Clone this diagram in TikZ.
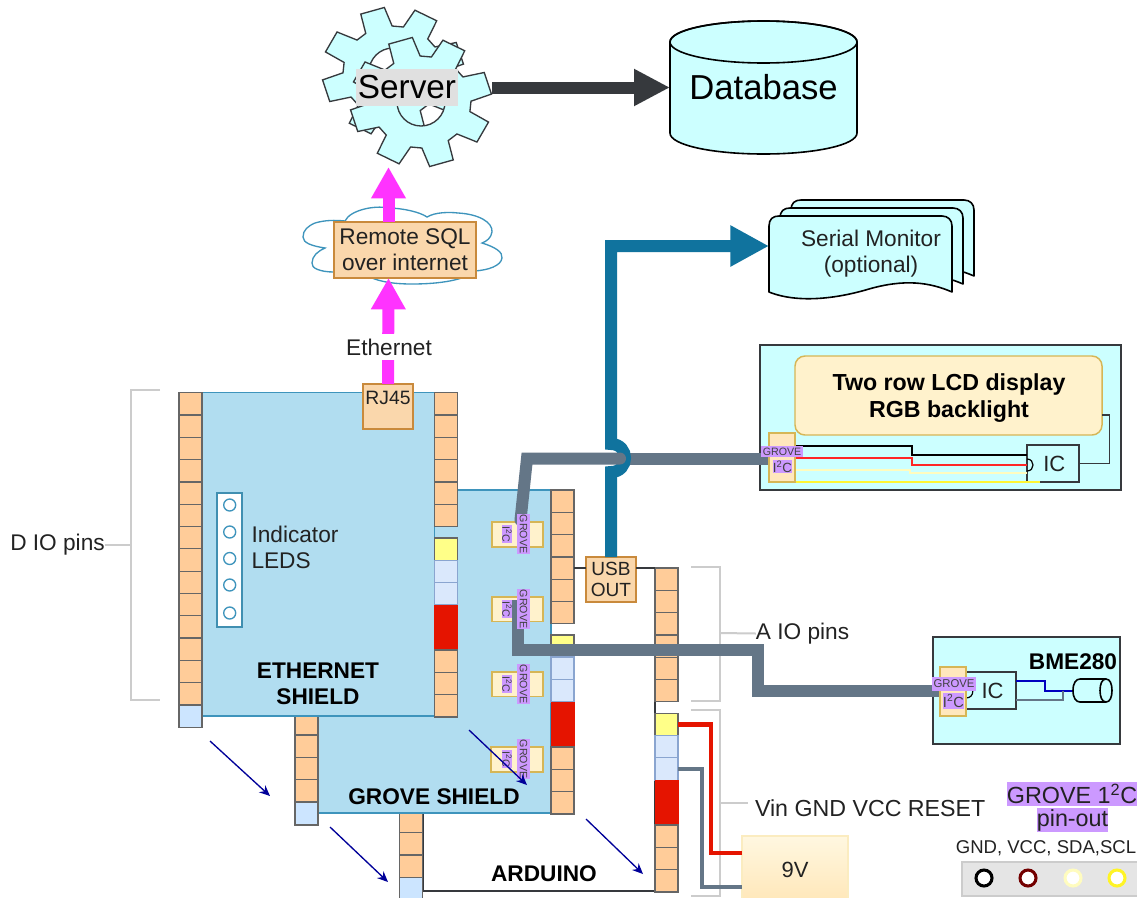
\documentclass[tikz,border=0pt]{standalone}
\usepackage{fontspec}
\setmainfont{Liberation Sans}
\usetikzlibrary{arrows.meta}
\pgfdeclarelayer{front}
\pgfsetlayers{main,front}
\definecolor{cyanfill}{HTML}{CCFFFF}
\definecolor{pinorange}{HTML}{FFCC99}
\definecolor{pinedge}{HTML}{666666}
\definecolor{pinblue}{HTML}{CCE5FF}
\definecolor{ltblue}{HTML}{DAE8FC}
\definecolor{ltblueedge}{HTML}{8AA5D0}
\definecolor{pinyellow}{HTML}{FFFF88}
\definecolor{pinred}{HTML}{E51400}
\definecolor{board}{HTML}{B1DDF0}
\definecolor{boardedge}{HTML}{3E94BC}
\definecolor{usbblue}{HTML}{10739E}
\definecolor{steel}{HTML}{647687}
\definecolor{darkarrow}{HTML}{36393D}
\definecolor{magentaarrow}{HTML}{FF33FF}
\definecolor{tan}{HTML}{FAD7AC}
\definecolor{tanedge}{HTML}{C98A3C}
\definecolor{cream}{HTML}{FFF2CC}
\definecolor{creamedge}{HTML}{D6B656}
\definecolor{purple}{HTML}{CC99FF}
\definecolor{navy}{HTML}{000099}
\definecolor{bracket}{HTML}{CCCCCC}
\definecolor{labeltext}{HTML}{222222}
\tikzset{
  base/.style={inner sep=0pt, outer sep=0pt, font=\fontsize{17}{19.5}\selectfont, align=center, text=labeltext},
  pinbox/.style={base, draw=pinedge, line width=0.9pt, fill=pinorange},
  pinbl/.style={pinbox, fill=pinblue},
  pinlt/.style={base, draw=ltblueedge, line width=0.9pt, fill=ltblue},
  pinye/.style={pinbox, fill=pinyellow},
  pinre/.style={base, draw=pinred, fill=pinred},
  boardbox/.style={base, draw=boardedge, line width=0.9pt, fill=board},
  tanbox/.style={base, draw=tanedge, line width=1.1pt, fill=tan},
  creambox/.style={base, draw=creamedge, line width=1.1pt, fill=cream},
  purplelabel/.style={base, fill=purple, font=\fontsize{8}{9}\selectfont, text=black!75},
  modulebox/.style={base, draw=darkarrow, line width=1.1pt, fill=cyanfill},
  heavy/.style={line width=9pt, line join=miter},
  thinblue/.style={navy, line width=1pt, -{Stealth[length=8pt,width=7pt]}},
  bracketline/.style={bracket, line width=1.5pt},
  sheet/.style={fill=cyanfill, draw=black, line width=1.2pt, line join=round},
  gearstyle/.style={fill=cyanfill, draw=darkarrow, line width=1pt, even odd rule},
  wire/.style={line width=1.5pt},
}
\newcommand{\bx}[7]{\node[#6, minimum width={(#4-(#2))*0.75pt}, minimum height={(#5-(#3))*0.75pt}] (#1) at ({(#2+#4)/2},{(#3+#5)/2}) {#7};}
\newcommand{\strip}[6]{% prefix, x0, y0, from, to, style
  \foreach \i in {#4,...,#5} {%
    \pgfmathsetmacro{\ya}{#3+(\i-#4)*22.3}%
    \pgfmathsetmacro{\yb}{\ya+22.3}%
    \pgfmathsetmacro{\xb}{#2+23}%
    \bx{#1\i}{#2}{\ya}{\xb}{\yb}{#6}{}%
  }}
\newcommand{\geargear}[2]{%
  \begin{scope}[shift={(#1,#2)}]
  \path[gearstyle] ({50*cos(12)},{46*sin(12)})
    \foreach \t in {28,73,118,163,208,253,298,343} {
      -- ({50*cos(\t-16)},{46*sin(\t-16)}) -- ({71*cos(\t-10)},{65*sin(\t-10)})
      -- ({71*cos(\t+10)},{65*sin(\t+10)}) -- ({50*cos(\t+16)},{46*sin(\t+16)})
    } -- cycle (0,0) circle [radius=24];
  \end{scope}}
\newcommand{\docsheet}[2]{%
  \begin{scope}[shift={(#1,#2)}]
  \path[sheet] (0,10) .. controls (0,3) and (4,0) .. (10,0) -- (173,0)
    .. controls (179,0) and (183,4) .. (183,10) -- (183,76)
    .. controls (160,66) and (135,63) .. (100,73)
    .. controls (70,82) and (30,88) .. (0,76) -- cycle;
  \end{scope}}
\begin{document}
\begin{tikzpicture}[x=0.75pt,y=-0.75pt]
\useasboundingbox (0,0) rectangle (1137,897);
\fill[white] (0,0) rectangle (1137,897);

% named free ends
\coordinate (gearbottom) at (388.5,167);
\coordinate (gearright) at (492,87.5);
\coordinate (sm) at (769,246);
\coordinate (a1s) at (210,741); \coordinate (a1e) at (270,796);
\coordinate (a2s) at (330,827); \coordinate (a2e) at (388,882);
\coordinate (a3s) at (469,730); \coordinate (a3e) at (527,785);
\coordinate (a4s) at (586,819); \coordinate (a4e) at (643,874);

% brackets
\draw[bracketline] (160,390) -- (131,390) -- (131,700) -- (160,700);
\draw[bracketline] (691,567) -- (720,567) -- (720,700.5) -- (691,700.5);
\draw[bracketline] (691,710) -- (720,710) -- (720,896) -- (691,896);

% gears
\geargear{393}{72}
\geargear{421}{102}
\bx{server}{356}{69}{458}{106}{base, fill=black!12, font=\fontsize{25}{28}\selectfont, text=black}{Server}

% database
\path[fill=cyanfill, draw=black, line width=1.2pt] (670,42) -- (670,133)
  .. controls (670,145) and (712,154) .. (763.5,154)
  .. controls (815,154) and (857,145) .. (857,133) -- (857,42)
  .. controls (857,30) and (815,21) .. (763.5,21)
  .. controls (712,21) and (670,30) .. (670,42) -- cycle;
\draw[black, line width=1.2pt] (763.5,42) ellipse [x radius=93.5, y radius=21];
\bx{db}{670}{21}{857}{154}{base, font=\fontsize{26}{28}\selectfont, text=black}{Database}
\draw[darkarrow, heavy, -{Triangle[length=27pt,width=26pt]}] (gearright) -- (db.west);

% cloud
\path[fill=white, draw=boardedge, line width=1pt]
  (345,221) .. controls (350,210) and (375,205) .. (388,208)
  .. controls (402,208) and (420,212) .. (427,217)
  .. controls (435,212) and (450,212) .. (458,213)
  .. controls (478,214) and (493,222) .. (492,232)
  .. controls (491,238) and (487,241) .. (482,243)
  .. controls (495,247) and (503,252) .. (502,258)
  .. controls (501,266) and (488,270) .. (475,271)
  .. controls (465,280) and (440,284) .. (412,284)
  .. controls (395,284) and (380,282) .. (370,277)
  .. controls (355,278) and (345,275) .. (334,272)
  .. controls (320,272) and (311,268) .. (312,263)
  .. controls (312,256) and (318,251) .. (325,248)
  .. controls (312,246) and (303,243) .. (303,237)
  .. controls (303,230) and (308,226) .. (315,223)
  .. controls (325,220) and (335,220) .. (345,221) -- cycle;

% serial monitor
\docsheet{791}{200}
\docsheet{780}{208}
\docsheet{769}{216}
\node[base] (serial) at (871,253.5) {Serial Monitor\\(optional)};

% LCD module
\bx{lcd}{760}{345}{1121}{490}{modulebox}{}
\bx{lcdpanel}{795}{356}{1102}{435}{creambox, rounded corners=7.5pt}{}
\node[base, font=\fontsize{17.4}{20.5}\bfseries\selectfont, text=black] (lcdtitle) at (949,398) {Two row LCD display\\RGB backlight};
\bx{lcdic}{1027}{445}{1079}{482}{modulebox, font=\fontsize{16.5}{19}\selectfont}{\hspace{2pt}IC}
\draw[darkarrow, line width=1.4pt] (lcdpanel.east |- 1102,415) -- (1109.5,415) -- (1109.5,463.5) -- (lcdic.east);
\draw[black, line width=0.9pt] (1027,459) .. controls (1035,459) and (1035,471) .. (1027,471);
\draw[wire, black] (795,445.7) -- (911.7,445.7) -- (911.7,455) -- (1027,455);
\draw[wire, red!85!white] (795,457.7) -- (911.7,457.7) -- (911.7,465) -- (1027,465);
\draw[wire, yellow!25!white] (795,470.3) -- (910,470.3) -- (910,472.7) -- (1027,472.7);
\draw[wire, yellow!80!white] (788,482.3) -- (1040,482.3);

% BME module
\bx{bme}{933}{637}{1120}{744}{modulebox}{}
\bx{bmeic}{945}{672}{1016}{709}{modulebox, font=\fontsize{16.5}{19}\selectfont}{\hspace{18pt}IC}
\draw[black, line width=0.9pt] (966,685) .. controls (975,685) and (975,698) .. (966,698);
\node[base, font=\fontsize{17}{19}\bfseries\selectfont, text=black] (bmename) at (1073,662) {BME280};
\coordinate (senseleft) at (1073,691);
\draw[wire, blue!75!black] (bmeic.east |- 1016,681) -- (1045,681) -- (1045,691) -- (senseleft);
\draw[wire, steel] (bmeic.east |- 1016,700) -- (1063,700) -- (1063,691);
\path[fill=cyanfill, draw=black, line width=1.2pt] (1080,679) -- (1106,679)
  .. controls (1110,679) and (1112,684) .. (1112,690.5)
  .. controls (1112,697) and (1110,702) .. (1106,702) -- (1080,702)
  .. controls (1076,702) and (1073,698) .. (1073,690.5)
  .. controls (1073,683) and (1076,679) .. (1080,679) -- cycle;
\draw[black, line width=1.2pt] (1106,679) .. controls (1102,679) and (1100,684) .. (1100,690.5)
  .. controls (1100,697) and (1102,702) .. (1106,702);

% Arduino
\bx{arduino}{423}{568}{655}{891}{base, draw=darkarrow, line width=0.9pt, fill=white}{}
\strip{ardl}{399.5}{810.4}{1}{3}{pinbox}
\bx{ardlb}{399.5}{877.3}{422.5}{900}{pinbl}{}
\strip{ardr}{655}{568}{1}{6}{pinbox}
\bx{ardry}{655}{713.3}{678}{735.5}{pinye}{}
\bx{ardrb}{655}{735.5}{678}{757.8}{pinlt}{}
\bx{ardrc}{655}{757.8}{678}{780.2}{pinlt}{}
\bx{ardrr}{655}{780.2}{678}{825}{pinre}{}
\strip{ardo}{655}{825}{1}{3}{pinbox}
\node[base, font=\fontsize{17}{19}\bfseries\selectfont, text=black] (ardname) at (544,874) {ARDUINO};

% Grove shield
\bx{grove}{318}{490}{551}{813}{boardbox}{}
\strip{grl}{295}{712.7}{1}{4}{pinbox}
\bx{grlb}{295}{802}{318}{825}{pinbl}{}
\strip{grr}{551}{490}{1}{6}{pinbox}
\bx{grry}{551}{635}{574}{657}{pinye}{}
\bx{grrb}{551}{657}{574}{679.5}{pinlt}{}
\bx{grrc}{551}{679.5}{574}{702}{pinlt}{}
\bx{grrr}{551}{702}{574}{747}{pinre}{}
\strip{gro}{551}{747}{1}{3}{pinbox}
\node[base, font=\fontsize{17}{19}\bfseries\selectfont, text=black] (grovename) at (434,797) {GROVE SHIELD};
\bx{p1}{492}{522}{543}{547}{creambox}{}
\bx{p2}{492}{597}{543}{621.5}{creambox}{}
\bx{p3}{492}{672}{543}{696.5}{creambox}{}
\bx{p4}{491}{747}{543}{772}{creambox}{}

% Ethernet shield
\bx{eth}{202}{392.7}{434.5}{716}{boardbox}{}
\strip{ethl}{179}{392.7}{1}{14}{pinbox}
\bx{ethlb}{179}{705}{202}{727.5}{pinbl}{}
\strip{ethr}{434.5}{392.7}{1}{6}{pinbox}
\bx{ethry}{434.5}{538}{457.5}{560.3}{pinye}{}
\bx{ethrb}{434.5}{560.3}{457.5}{582.6}{pinlt}{}
\bx{ethrc}{434.5}{582.6}{457.5}{605}{pinlt}{}
\bx{ethrr}{434.5}{605}{457.5}{650}{pinre}{}
\strip{etho}{434.5}{650}{1}{3}{pinbox}
\bx{ledstrip}{217}{493}{242}{627}{base, draw=usbblue!80, line width=1pt, fill=white}{}
\foreach \n/\y in {a/505,b/532,c/558.5,d/585,e/613}
  \node[circle, draw=boardedge, line width=1pt, fill=none, minimum size=9pt, inner sep=0pt] (led\n) at (229.7,\y) {};
\node[base, align=left, anchor=west] (ledtext) at (251.5,547) {Indicator\\LEDS};
\node[base, font=\fontsize{17}{19.5}\bfseries\selectfont, text=black] (ethname) at (318,684) {ETHERNET\\SHIELD};
\bx{rj45}{363}{384}{413}{429}{tanbox}{}
\node[base, font=\fontsize{14.5}{17}\selectfont] (rj45text) at (388,398) {RJ45};

% upper arrows
\bx{remote}{334}{222}{476}{278}{tanbox}{Remote SQL\\over internet}
\draw[magentaarrow, heavy, -{Triangle[length=23.5pt,width=24.5pt]}] (remote.north -| gearbottom) -- (gearbottom);
\draw[magentaarrow, heavy, -{Triangle[length=23.5pt,width=24.5pt]}] (rj45.north) -- (388.5,278);
\node[base, fill=white, minimum width=69pt, minimum height=20pt] (ethernet) at (389,347) {Ethernet};

% USB box and its pass-through lines
\bx{usb}{586}{557}{636}{602}{tanbox, font=\fontsize{14.3}{16}\selectfont}{USB\\[0pt]OUT}
\draw[darkarrow, line width=0.9pt] (574,568) -- (586,568);
\draw[darkarrow, line width=0.9pt] (636,568) -- (655,568);

% module connectors sit on top of the bus
\begin{pgfonlayer}{front}
\bx{lcdport}{769}{433}{795}{482}{creambox, fill=cream!70!pinorange}{}
\bx{bmeport}{940}{667}{966}{716}{creambox, fill=cream!70!pinorange}{}
\end{pgfonlayer}

% steel bus and USB line
\draw[steel, heavy] (620,458.5) -- (lcdport.west |- 769,458.5);
\draw[usbblue, heavy, -{Triangle[length=29pt,width=29pt]}] (usb.north -| 611,0) -- (611,472)
   .. controls (629.7,472) and (629.7,444) .. (611,444) -- (611,246) -- (sm);
\draw[steel, heavy, line cap=round] (620,458.5) -- (527,458.5) -- (520.5,520);
\draw[steel, heavy] (518,600) -- (518,650) -- (758,650) -- (758,691) -- (bmeport.west |- 940,691);

% grove labels
\begin{pgfonlayer}{front}
\foreach \k/\yy in {1/522,2/597,3/672,4/747} {
  \pgfmathsetmacro{\gy}{\yy+12}
  \node[purplelabel, rotate=-90, minimum width=30pt, minimum height=9.7pt] (gv\k) at (523.5,\gy) {GROVE};
  \node[purplelabel, rotate=-90, minimum width=13pt, minimum height=8pt] (gi\k) at (507,\gy) {I\textsuperscript{2}C};
}
\bx{lcdgv}{761}{446}{803}{457}{purplelabel}{GROVE}
\bx{lcdi}{773}{460}{792}{473}{purplelabel, font=\fontsize{10}{11}\selectfont}{I\textsuperscript{2}C}
\bx{bmegv}{932}{677}{976}{691}{purplelabel, font=\fontsize{8.5}{9}\selectfont}{GROVE}
\bx{bmei}{943}{693}{964}{709}{purplelabel, font=\fontsize{11}{12}\selectfont}{I\textsuperscript{2}C}
% thin arrows
\draw[thinblue] (a1s) -- (a1e);
\draw[thinblue] (a2s) -- (a2e);
\draw[thinblue] (a3s) -- (a3e);
\draw[thinblue] (a4s) -- (a4e);
\end{pgfonlayer}

% labels and bracket stubs
\node[base] (dio) at (57.5,545) {D IO pins};
\draw[bracketline] (dio.east) -- (131,545);
\node[base] (aio) at (802.5,633.5) {A IO pins};
\draw[bracketline] (720,633) -- (aio.west);
\node[base, anchor=west, font=\fontsize{17.4}{19.5}\selectfont] (vin) at (755,808) {Vin GND VCC RESET};
\draw[bracketline] (720,803) -- (748,803);

% 9V
\bx{battery}{742}{836}{848}{904}{base, draw=cream!90!creamedge, line width=1pt, top color=cream!60!white, bottom color=cream!90!orange, font=\fontsize{16.5}{19}\selectfont}{9V}
\draw[pinred, line width=3.2pt] (ardry.east) -- (711,724.4) -- (711,853) -- (battery.west |- 742,853);
\draw[steel, line width=3.2pt] (ardrc.east) -- (702,769) -- (702,886.7) -- (battery.west |- 742,886.7);

% pin-out legend
\bx{legendtitle}{1007}{782}{1137}{806}{base, fill=purple, font=\fontsize{17.5}{19}\selectfont}{GROVE 1\textsuperscript{2}C}
\bx{legendsub}{1037}{808}{1108}{832}{base, fill=purple, font=\fontsize{17.5}{19}\selectfont}{pin-out}
\node[base, font=\fontsize{13.9}{16}\selectfont] (legendpins) at (1046,848) {GND, VCC, SDA,SCL};
\bx{legendbox}{962}{862}{1145}{896}{base, draw=black!20, line width=0.9pt, fill=black!10}{}
\foreach \n/\x/\c in {a/984/black, b/1028/red!45!black, c/1073/yellow!25!white, d/1117/yellow!85!white}
  \node[circle, draw=\c, line width=2.3pt, fill=white, minimum size=12pt, inner sep=0pt] (pin\n) at (\x,878) {};
\end{tikzpicture}
\end{document}
